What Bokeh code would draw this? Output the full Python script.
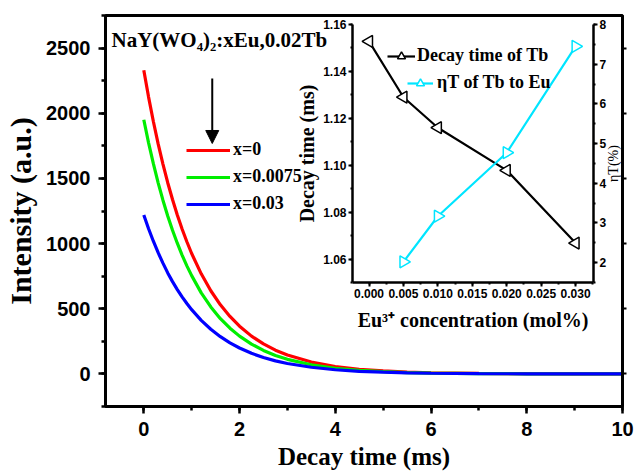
import numpy as np
from bokeh.plotting import figure
from bokeh.models import (Range1d, LinearAxis, SingleIntervalTicker, Legend, LegendItem,
                          Label, Arrow, NormalHead, NumeralTickFormatter, GridBox,
                          CustomJSTickFormatter)
from bokeh.embed import file_html
from bokeh.resources import INLINE

# ---------------- data ----------------
t = [0, 0.1, 0.2, 0.3, 0.4, 0.5, 0.6, 0.7, 0.8, 0.9, 1.0, 1.2, 1.4, 1.6, 1.8, 2.0,
     2.25, 2.5, 2.75, 3.0, 3.5, 4.0, 4.5, 5.0, 5.5, 6.0, 7.0, 8.0, 9.0, 10.0]
I_x0 = [2330, 2124, 1937, 1765, 1610, 1467, 1338, 1220, 1112, 1014, 924, 768, 638, 530, 441, 366,
        290, 230, 182, 145, 91, 57, 36, 23, 14, 9, 4, 2, 1, 0]
I_x00075 = [1950, 1773, 1613, 1466, 1333, 1212, 1102, 1003, 912, 829, 754, 622, 514, 424, 351, 290,
            229, 180, 142, 112, 70, 43, 27, 17, 10, 6, 3, 1, 0, 0]
I_x003 = [1220, 1114, 1018, 930, 850, 775, 708, 647, 591, 540, 493, 411, 343, 286, 238, 199,
          158, 126, 100, 80, 51, 32, 20, 13, 8, 5, 2, 1, 0, 0]
series_labels = ["x=0", "x=0.0075", "x=0.03"]

eu_conc = [0.000, 0.005, 0.010, 0.020, 0.030]
decay_tb = [1.1528, 1.1290, 1.1160, 1.0978, 1.0668]
eta_conc = [0.005, 0.010, 0.020, 0.030]
eta_t = [2.02, 3.17, 4.77, 7.45]

SERIF = "Liberation Serif"
SANS = "Liberation Sans"

# shared panel sizes (the grid aligns the borders of both figures)
BL, BR, BT, BB = 105, 14, 15, 66

# ---------------- main figure ----------------
p = figure(width=638, height=472, x_range=(-0.8, 10), y_range=(-250, 2750),
           title=None, output_backend="svg", toolbar_location=None,
           min_border_left=BL, min_border_right=BR, min_border_top=BT, min_border_bottom=BB)
p.xgrid.visible = False
p.ygrid.visible = False
p.outline_line_color = "black"
p.outline_line_width = 3

colors = ["#FF0000", "#00EE00", "#0000FF"]
renderers = []
for ys, c in zip([I_x0, I_x00075, I_x003], colors):
    renderers.append(p.line(t, ys, line_color=c, line_width=3.2))

xax = p.xaxis[0]
yax = p.yaxis[0]
xax.ticker = SingleIntervalTicker(interval=2, num_minor_ticks=2)
yax.ticker = SingleIntervalTicker(interval=500, num_minor_ticks=2)
for ax in (xax, yax):
    ax.axis_line_width = 3
    ax.major_tick_line_width = 2.5
    ax.minor_tick_line_width = 2.5
    ax.major_tick_out = 7
    ax.major_tick_in = 0
    ax.minor_tick_out = 4
    ax.minor_tick_in = 0
    ax.major_label_text_font = SANS
    ax.major_label_text_font_style = "bold"
    ax.major_label_text_font_size = "20px"
    ax.major_label_text_color = "black"
    ax.axis_label_text_font = SERIF
    ax.axis_label_text_font_style = "bold"
    ax.axis_label_text_color = "black"
xax.axis_label = "Decay time (ms)"
xax.axis_label_text_font_size = "25px"
xax.major_label_standoff = 8
xax.axis_label_standoff = 4
yax.axis_label = "Intensity (a.u.)"
yax.axis_label_text_font_size = "30px"
yax.major_label_standoff = 8
yax.axis_label_standoff = 6

rax = LinearAxis(ticker=SingleIntervalTicker(interval=500, num_minor_ticks=2),
                 formatter=CustomJSTickFormatter(code="return ''"),
                 major_label_standoff=0,
                 axis_line_width=3, major_tick_out=4, major_tick_in=0,
                 minor_tick_out=0, minor_tick_in=0, major_tick_line_width=2)
p.add_layout(rax, "right")

legend = Legend(items=[LegendItem(label=l, renderers=[r]) for l, r in zip(series_labels, renderers)],
                location=(81, 192), orientation="vertical",
                glyph_width=44, glyph_height=20, label_height=20, spacing=6,
                label_standoff=3, padding=0, margin=0,
                border_line_color=None, background_fill_alpha=0,
                label_text_font=SERIF, label_text_font_style="bold",
                label_text_font_size="18px", label_text_color="black")
p.add_layout(legend)

p.add_layout(Label(x=-0.675, y=2560, text="NaY(WO\u2084)\u2082:xEu,0.02Tb",
                   text_font=SERIF, text_font_style="bold", text_font_size="21px",
                   text_color="black", text_baseline="alphabetic"))
p.add_layout(Arrow(x_start=1.43, y_start=2267, x_end=1.43, y_end=1768,
                   line_width=2, line_color="black",
                   end=NormalHead(size=13, fill_color="black", line_color="black")))
# right-axis title of the inset (drawn on the main canvas, where it lies)
p.add_layout(Label(x=9.81, y=1614, text="ηT(%)", angle=np.pi / 2,
                   text_font=SERIF, text_font_size="14px", text_color="black",
                   text_align="center", text_baseline="middle"))

# ---------------- inset figure ----------------
ins = figure(frame_width=241, frame_height=258, x_range=(-0.0024, 0.0326), y_range=(1.05, 1.16),
             title=None, output_backend="svg", toolbar_location=None,
             min_border_left=BL, min_border_right=BR, min_border_top=BT, min_border_bottom=BB)
ins.xgrid.visible = False
ins.ygrid.visible = False
ins.outline_line_color = None
ins.background_fill_alpha = 0
ins.border_fill_alpha = 0
ins.extra_y_ranges = {"eta": Range1d(1.5, 8)}

r_decay_l = ins.line(eu_conc, decay_tb, line_color="black", line_width=2.2)
r_decay_m = ins.scatter(eu_conc, decay_tb, marker="triangle", angle=np.pi / 2, size=12,
                        line_color="black", line_width=1.5, fill_color="white")
r_eta_l = ins.line(eta_conc, eta_t, line_color="#00E5FF", line_width=2.2, y_range_name="eta")
r_eta_m = ins.scatter(eta_conc, eta_t, marker="triangle", angle=-np.pi / 2, size=12,
                      line_color="#00E5FF", line_width=1.5, fill_color="white", y_range_name="eta")

ixax = ins.xaxis[0]
iyax = ins.yaxis[0]
ixax.ticker = SingleIntervalTicker(interval=0.005, num_minor_ticks=2)
ixax.formatter = NumeralTickFormatter(format="0.000")
iyax.ticker = SingleIntervalTicker(interval=0.02, num_minor_ticks=2)
iyax.formatter = NumeralTickFormatter(format="0.00")
eax = LinearAxis(y_range_name="eta", ticker=SingleIntervalTicker(interval=1, num_minor_ticks=2))
ins.add_layout(eax, "right")
for ax in (ixax, iyax, eax):
    ax.axis_line_width = 2.5
    ax.major_tick_line_width = 2
    ax.minor_tick_line_width = 2
    ax.major_tick_out = 4
    ax.major_tick_in = 0
    ax.minor_tick_out = 2
    ax.minor_tick_in = 0
    ax.major_label_text_font = SANS
    ax.major_label_text_font_style = "bold"
    ax.major_label_text_font_size = "12px"
    ax.major_label_text_color = "black"
    ax.major_label_standoff = 2
    ax.axis_label_text_font = SERIF
    ax.axis_label_text_font_style = "bold"
    ax.axis_label_text_color = "black"
    ax.axis_label_text_font_size = "20px"
    ax.axis_label_standoff = 2
ixax.axis_label = "Eu\u00b3\u207a concentration (mol%)"
ixax.axis_label_standoff = 8
iyax.axis_label = "Decay time (ms)"

leg1 = Legend(items=[LegendItem(label="Decay time of Tb", renderers=[r_decay_l, r_decay_m])],
              location=(35, 216), glyph_width=28, glyph_height=20, label_height=20,
              label_standoff=2, padding=0, margin=0, border_line_color=None,
              background_fill_alpha=0, label_text_font=SERIF, label_text_font_style="bold",
              label_text_font_size="18px", label_text_color="black")
leg2 = Legend(items=[LegendItem(label="ηT of Tb to Eu", renderers=[r_eta_l, r_eta_m])],
              location=(55, 189), glyph_width=26, glyph_height=20, label_height=20,
              label_standoff=4, padding=0, margin=0, border_line_color=None,
              background_fill_alpha=0, label_text_font=SERIF, label_text_font_style="bold",
              label_text_font_size="18px", label_text_color="black")
ins.add_layout(leg1)
ins.add_layout(leg2)

# inset frame: left 352, top 24 -> figure origin at (352-BL, 24-BT)
ins.margin = (24 - BT, 0, 0, 352 - BL)
p.margin = (0, 0, 0, 0)

layout = GridBox(children=[(p, 0, 0), (ins, 0, 0)])

open("out.html", "w").write(file_html(layout, INLINE))
